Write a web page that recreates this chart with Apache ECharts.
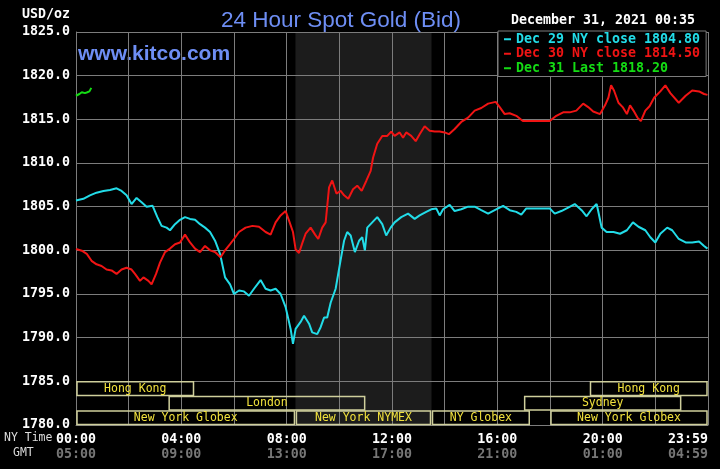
<!DOCTYPE html>
<html><head><meta charset="utf-8">
<script src="https://cdn.jsdelivr.net/npm/echarts@6/dist/echarts.min.js"></script>
<style>html,body{margin:0;padding:0;background:#000}#c{width:720px;height:469px}</style>
</head><body><div id="c"></div>
<script>
// ---- data ----
const dec29 = [[0,1805.7],[0.28,1805.9],[0.53,1806.3],[0.78,1806.6],[1.04,1806.8],[1.29,1806.9],[1.54,1807.1],[1.73,1806.8],[1.92,1806.3],[2.11,1805.3],[2.30,1806.0],[2.49,1805.5],[2.68,1805.0],[2.91,1805.1],[3.09,1803.8],[3.25,1802.8],[3.44,1802.6],[3.57,1802.3],[3.76,1803.0],[3.95,1803.5],[4.14,1803.8],[4.33,1803.6],[4.52,1803.5],[4.71,1803.0],[4.90,1802.6],[5.09,1802.1],[5.28,1801.1],[5.47,1799.6],[5.66,1796.9],[5.85,1796.1],[6.0,1795.0],[6.19,1795.4],[6.38,1795.3],[6.57,1794.8],[6.76,1795.6],[7.01,1796.6],[7.2,1795.6],[7.39,1795.4],[7.58,1795.6],[7.77,1795.0],[7.96,1793.5],[8.15,1791.0],[8.24,1789.3],[8.34,1791.0],[8.53,1791.8],[8.66,1792.5],[8.85,1791.6],[8.97,1790.6],[9.16,1790.4],[9.29,1791.2],[9.42,1792.3],[9.54,1792.3],[9.67,1794.0],[9.86,1795.6],[10.05,1798.9],[10.18,1801.1],[10.30,1802.1],[10.43,1801.7],[10.59,1799.8],[10.75,1801.1],[10.87,1801.5],[10.97,1800.0],[11.06,1802.6],[11.25,1803.2],[11.44,1803.8],[11.63,1803.0],[11.78,1801.7],[11.95,1802.6],[12.1,1803.2],[12.35,1803.8],[12.61,1804.2],[12.86,1803.6],[13.05,1804.0],[13.30,1804.4],[13.49,1804.7],[13.68,1804.8],[13.81,1804.0],[13.94,1804.7],[14.19,1805.2],[14.38,1804.5],[14.63,1804.7],[14.89,1805.0],[15.14,1805.0],[15.39,1804.6],[15.65,1804.2],[15.90,1804.6],[16.22,1805.1],[16.47,1804.6],[16.72,1804.4],[16.91,1804.1],[17.10,1804.8],[17.48,1804.8],[17.99,1804.8],[18.18,1804.2],[18.43,1804.5],[18.69,1804.9],[18.94,1805.3],[19.20,1804.6],[19.39,1803.9],[19.58,1804.7],[19.77,1805.3],[19.83,1804.5],[19.96,1802.6],[20.15,1802.1],[20.41,1802.1],[20.66,1801.9],[20.92,1802.3],[21.15,1803.2],[21.36,1802.7],[21.62,1802.3],[21.81,1801.5],[22.0,1800.9],[22.19,1801.9],[22.45,1802.6],[22.64,1802.3],[22.89,1801.3],[23.15,1800.9],[23.40,1800.9],[23.66,1801.0],[23.85,1800.5],[23.98,1800.2]];
const dec30 = [[0,1800.15],[0.22,1799.96],[0.41,1799.6],[0.59,1798.8],[0.78,1798.4],[0.97,1798.2],[1.16,1797.8],[1.35,1797.7],[1.54,1797.3],[1.73,1797.8],[1.92,1798.0],[2.11,1797.8],[2.24,1797.3],[2.43,1796.5],[2.56,1796.9],[2.75,1796.5],[2.87,1796.1],[3.04,1797.3],[3.19,1798.6],[3.38,1799.8],[3.57,1800.2],[3.76,1800.7],[3.95,1800.9],[4.14,1801.8],[4.33,1800.9],[4.52,1800.2],[4.71,1799.8],[4.90,1800.5],[5.09,1800.0],[5.28,1799.8],[5.49,1799.2],[5.66,1800.0],[5.85,1800.7],[6.0,1801.3],[6.19,1802.1],[6.44,1802.6],[6.70,1802.8],[6.95,1802.7],[7.2,1802.1],[7.39,1801.8],[7.58,1803.2],[7.77,1804.0],[7.96,1804.5],[8.09,1803.4],[8.24,1802.1],[8.34,1800.1],[8.47,1799.7],[8.59,1800.8],[8.72,1801.9],[8.91,1802.6],[9.08,1801.8],[9.20,1801.3],[9.35,1802.6],[9.48,1803.2],[9.61,1807.2],[9.73,1808.0],[9.89,1806.5],[10.05,1806.8],[10.18,1806.3],[10.34,1805.9],[10.52,1807.0],[10.68,1807.4],[10.85,1806.8],[11.03,1808.0],[11.19,1809.1],[11.28,1810.6],[11.44,1812.2],[11.63,1813.1],[11.82,1813.1],[11.97,1813.6],[12.1,1813.1],[12.29,1813.5],[12.42,1812.9],[12.54,1813.5],[12.73,1813.1],[12.90,1812.5],[13.05,1813.3],[13.24,1814.2],[13.43,1813.7],[13.62,1813.6],[13.81,1813.6],[14.0,1813.5],[14.16,1813.3],[14.38,1813.9],[14.63,1814.7],[14.89,1815.2],[15.14,1816.0],[15.39,1816.3],[15.65,1816.8],[15.94,1817.0],[16.09,1816.4],[16.28,1815.6],[16.47,1815.7],[16.72,1815.4],[16.97,1814.8],[17.35,1814.8],[17.73,1814.8],[17.99,1814.8],[18.24,1815.4],[18.50,1815.8],[18.75,1815.8],[19.0,1816.0],[19.26,1816.8],[19.45,1816.4],[19.64,1815.9],[19.90,1815.6],[20.09,1816.6],[20.22,1817.5],[20.32,1818.9],[20.43,1818.3],[20.60,1816.9],[20.76,1816.4],[20.92,1815.6],[21.04,1816.6],[21.17,1816.0],[21.32,1815.2],[21.45,1814.8],[21.62,1816.0],[21.78,1816.5],[21.96,1817.5],[22.19,1818.2],[22.38,1818.9],[22.57,1818.0],[22.89,1816.9],[23.15,1817.7],[23.40,1818.3],[23.66,1818.2],[23.85,1817.9],[23.98,1817.8]];
const dec31 = [[0,1817.7],[0.13,1817.9],[0.22,1818.1],[0.34,1818.0],[0.43,1818.1],[0.51,1818.2],[0.58,1818.6]];
const seriesNames = ['Dec 29 NY close 1804.80','Dec 30 NY close 1814.50','Dec 31 Last 1818.20'];
const nyLabels = ['00:00','04:00','08:00','12:00','16:00','20:00','23:59'];
const gmtLabels = ['05:00','09:00','13:00','17:00','21:00','01:00','04:59'];
// sessions: [startHour, endHour, row, name]
const sessions = [[0,4.5,0,'Hong Kong'],[19.5,24,0,'Hong Kong'],[3.5,11,1,'London'],[17,23,1,'Sydney'],[0,8.333,2,'New York Globex'],[8.333,13.5,2,'New York NYMEX'],[13.5,17.25,2,'NY Globex'],[18,24,2,'New York Globex']];
const pitHours = [[8.333,13.5]];

// ---- chart ----
const MONO = '"DejaVu Sans Mono", monospace';
const GRID = '#7c7c7c';
const COLORS = ['#22dce8','#f01414','#14dc14'];
const chart = echarts.init(document.getElementById('c'));
const rowH = 5/3;
chart.setOption({
  backgroundColor:'#000',
  animation:false,
  grid:{left:76,right:12,top:32,bottom:44},
  title:{text:'24 Hour Spot Gold (Bid)',left:216,top:4,textStyle:{color:'#6e8ef4',fontFamily:'"Liberation Sans", Arial, sans-serif',fontSize:22.5,fontWeight:'normal'}},
  legend:{orient:'vertical',left:498,top:31,padding:[1,6,1,6],backgroundColor:'#000',borderColor:GRID,borderWidth:1,itemGap:0,itemWidth:7,itemHeight:2,icon:'rect',selectedMode:false,
    textStyle:{fontFamily:MONO,fontSize:13.3,fontWeight:'bold',lineHeight:14.5},
    data:seriesNames.map((n,i)=>({name:n,textStyle:{color:COLORS[i]},itemStyle:{color:COLORS[i]}}))},
  graphic:[
    {type:'text',left:78,top:44,style:{text:'www.kitco.com',fill:'#6e8ef4',font:'bold 21px "Liberation Sans", Arial, sans-serif'}},
    {type:'text',right:650,top:8,style:{text:'USD/oz',fill:'#fff',font:'bold 13.3px '+MONO}},
    {type:'text',left:511,top:14,style:{text:'December 31, 2021 00:35',fill:'#fff',font:'bold 13.3px '+MONO}},
    {type:'text',left:4,top:432,style:{text:'NY Time',fill:'#ddd',font:'11.5px '+MONO}},
    {type:'text',left:13,top:447,style:{text:'GMT',fill:'#ddd',font:'11.5px '+MONO}}
  ],
  xAxis:{type:'value',min:0,max:24,interval:2,
    axisLine:{show:true,lineStyle:{color:GRID}},axisTick:{show:false},
    splitLine:{show:true,lineStyle:{color:GRID,width:1}},
    axisLabel:{margin:7,alignMaxLabel:'right',showMaxLabel:true,showMinLabel:true,
      formatter:v=>{ if(v%4!==0) return ''; const i=v/4; return '{a|'+nyLabels[i]+'}\n{b|'+gmtLabels[i]+'}'; },
      rich:{a:{color:'#fff',fontFamily:MONO,fontWeight:'bold',fontSize:13.3,lineHeight:15},
            b:{color:'#777',fontFamily:MONO,fontWeight:'bold',fontSize:13.3,lineHeight:15}}}},
  yAxis:{type:'value',min:1780,max:1825,interval:5,
    axisLine:{show:true,lineStyle:{color:GRID}},axisTick:{show:false},
    splitLine:{show:true,lineStyle:{color:GRID,width:1}},
    axisLabel:{margin:6,color:'#fff',fontFamily:MONO,fontWeight:'bold',fontSize:13.3,formatter:v=>v.toFixed(1)}},
  series:[
    {type:'custom',z:-1,silent:true,data:pitHours,
      renderItem:(p,api)=>{const a=api.coord([api.value(0),1825]),b=api.coord([api.value(1),1780]);
        return {type:'rect',shape:{x:a[0],y:a[1],width:b[0]-a[0],height:b[1]-a[1]},style:{fill:'#1c1c1c'}};}},
    {name:seriesNames[0],type:'line',data:dec29,showSymbol:false,lineStyle:{color:COLORS[0],width:2},itemStyle:{color:COLORS[0]}},
    {name:seriesNames[1],type:'line',data:dec30,showSymbol:false,lineStyle:{color:COLORS[1],width:2},itemStyle:{color:COLORS[1]}},
    {name:seriesNames[2],type:'line',data:dec31,showSymbol:false,lineStyle:{color:COLORS[2],width:2},itemStyle:{color:COLORS[2]}},
    {type:'custom',silent:true,data:sessions,z:3,
      renderItem:(p,api)=>{const s=api.value(0),e=api.value(1),r=api.value(2);
        const top=1785-r*rowH, bot=top-rowH;
        const a=api.coord([s,top]), b=api.coord([e,bot]);
        const name=sessions[p.dataIndex][3];
        return {type:'group',children:[
          {type:'rect',shape:{x:a[0]+1,y:a[1]+0.5,width:b[0]-a[0]-2,height:b[1]-a[1]-1},style:{fill:null,stroke:'#cfcf9c',lineWidth:1.5}},
          {type:'text',style:{x:(a[0]+b[0])/2,y:(a[1]+b[1])/2,text:name,fill:'#f2e23c',font:'11.5px '+MONO,align:'center',verticalAlign:'middle'}}
        ]};}}
  ]
});
</script></body></html>
